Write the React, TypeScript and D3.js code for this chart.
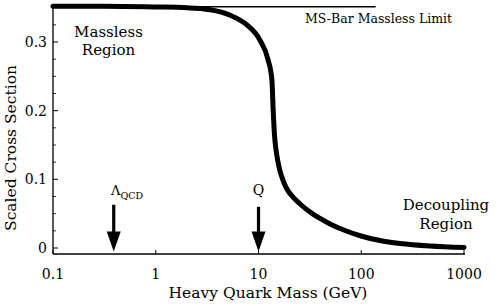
import React from "react";
import * as d3 from "d3";

const massValues = [0.1, 0.3, 1, 2, 3.4, 5.3, 7.7, 10.3, 12.4, 13.5, 13.9, 14.3, 14.8, 15.5, 16.2, 17.3, 18.9, 21.7, 25.4, 31.7, 39.7, 50.8, 69.5, 99.4, 152, 238, 467, 1000];
const crossSection = [0.352, 0.352, 0.351, 0.35, 0.347, 0.339, 0.325, 0.303, 0.274, 0.245, 0.2, 0.165, 0.143, 0.125, 0.112, 0.099, 0.0859, 0.0742, 0.0641, 0.0524, 0.043, 0.0342, 0.0255, 0.0175, 0.0109, 0.0066, 0.0029, 0.0007];
const xTicks = [0.1, 1, 10, 100, 1000];
const xTickLabels = ["0.1", "1", "10", "100", "1000"];
const yTicks = [0, 0.1, 0.2, 0.3];
const yTickLabels = ["0", "0.1", "0.2", "0.3"];
const yMinorTicks = [0.025, 0.05, 0.075, 0.125, 0.15, 0.175, 0.225, 0.25, 0.275, 0.325];
const masslessLimit = 0.3515;
const masslessLimitEnd = 138;
const arrowMasses = [0.39, 10];
const arrowTops = [0.063, 0.06];
const arrowTip = -0.005;

const W = 498, H = 306;
const FONT = "DejaVu Serif, serif";

export default function App() {
  const x = d3.scaleLog().domain([0.1, 1000]).range([53, 464]);
  const y = d3.scaleLinear().domain([0, 0.3]).range([248, 42]);
  const yBottom = 254;
  const yTop = 4;
  const data = massValues.map((m, i) => [m, crossSection[i]] as [number, number]);
  const line = d3.line<[number, number]>()
    .x(d => x(d[0]))
    .y(d => y(d[1]))
    .curve(d3.curveMonotoneX);

  return (
    <svg width={W} height={H} style={{ position: "absolute", left: 0, top: 0, background: "#fff", fontFamily: FONT }}>
      <rect width={W} height={H} fill="#fff" />
      <line x1={53} x2={465} y1={yBottom} y2={yBottom} stroke="#000" strokeWidth={1.3} />
      <line x1={53} x2={53} y1={yTop} y2={yBottom} stroke="#000" strokeWidth={1.3} />
      {xTicks.map((t, i) => (
        <g key={"xt" + i}>
          <line x1={x(t)} x2={x(t)} y1={yBottom} y2={yBottom - 4} stroke="#000" strokeWidth={1} />
          <text x={x(t)} y={279} textAnchor="middle" fontSize={14}>{xTickLabels[i]}</text>
        </g>
      ))}
      {yTicks.map((t, i) => (
        <g key={"yt" + i}>
          <line x1={53} x2={58} y1={y(t)} y2={y(t)} stroke="#000" strokeWidth={1} />
          <text x={47} y={y(t)} dy="0.36em" textAnchor="end" fontSize={14}>{yTickLabels[i]}</text>
        </g>
      ))}
      {yMinorTicks.map((t, i) => (
        <line key={"ym" + i} x1={53} x2={56} y1={y(t)} y2={y(t)} stroke="#000" strokeWidth={0.8} />
      ))}
      <text x={268} y={298} textAnchor="middle" fontSize={15.5}>Heavy Quark Mass (GeV)</text>
      <text transform="translate(16,148) rotate(-90)" textAnchor="middle" fontSize={15.5}>Scaled Cross Section</text>
      <line x1={x(0.1)} x2={x(masslessLimitEnd)} y1={y(masslessLimit)} y2={y(masslessLimit)} stroke="#000" strokeWidth={1.5} />
      <text x={305} y={23} fontSize={12.5}>MS-Bar Massless Limit</text>
      <path d={line(data) || ""} fill="none" stroke="#000" strokeWidth={5} strokeLinecap="round" strokeLinejoin="round" />
      {arrowMasses.map((m, i) => {
        const ax = x(m);
        const tipY = y(arrowTip);
        const baseY = tipY - 20;
        return (
          <g key={"ar" + i}>
            <line x1={ax} x2={ax} y1={y(arrowTops[i])} y2={baseY + 2} stroke="#000" strokeWidth={3.2} />
            <path d={`M${ax - 7},${baseY} L${ax + 7},${baseY} L${ax},${tipY} Z`} fill="#000" />
          </g>
        );
      })}
      <text x={111} y={195} fontSize={13}>Λ<tspan fontSize={9.5} dy={4}>QCD</tspan></text>
      <text x={x(10)} y={195} textAnchor="middle" fontSize={14}>Q</text>
      <text x={108.5} y={37} textAnchor="middle" fontSize={15}>Massless</text>
      <text x={108.5} y={55} textAnchor="middle" fontSize={15}>Region</text>
      <text x={446} y={210} textAnchor="middle" fontSize={15}>Decoupling</text>
      <text x={446} y={229} textAnchor="middle" fontSize={15}>Region</text>
    </svg>
  );
}
